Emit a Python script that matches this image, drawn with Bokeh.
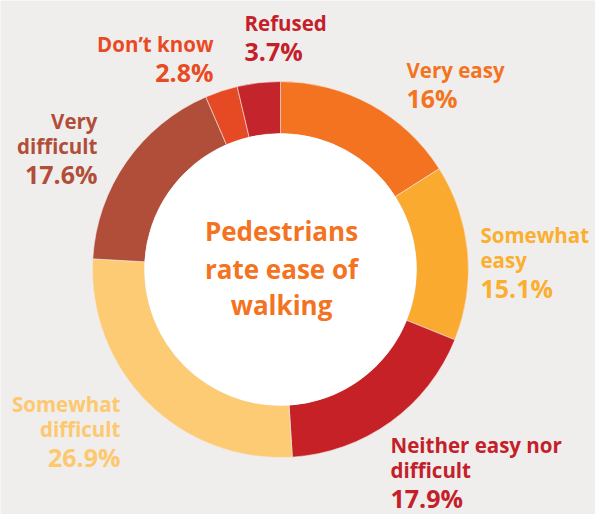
import math
from bokeh.plotting import figure
from bokeh.models import Range1d, ColumnDataSource
from bokeh.core.properties import value
from bokeh.embed import file_html
from bokeh.resources import INLINE

# ---- data ----
categories = ["Very easy", "Somewhat easy", "Neither easy nor difficult",
              "Somewhat difficult", "Very difficult", "Don\u2019t know", "Refused"]
shares = [16.0, 15.1, 17.9, 26.9, 17.6, 2.8, 3.7]
pct_labels = ["16%", "15.1%", "17.9%", "26.9%", "17.6%", "2.8%", "3.7%"]
name_lines = [["Very easy"], ["Somewhat", "easy"], ["Neither easy nor", "difficult"],
              ["Somewhat", "difficult"], ["Very", "difficult"], ["Don\u2019t know"], ["Refused"]]
title_lines = ["Pedestrians", "rate ease of", "walking"]

# ---- styles / layout ----
wedge_colors = ["#F37321", "#FBAA30", "#C62127", "#FDCB74", "#B04E3A", "#E64A24", "#C4242B"]
text_colors = ["#F37321", "#FBAE2F", "#C4202A", "#FDC86F", "#B04E3A", "#E84A24", "#C4202A"]
BG = "#F0EEEC"
W, H = 595, 514
cx, cy = 280, H - 269
r_out, r_in = 188, 136

# label anchor (px from top-left): x, y of first line center, align
label_pos = [(406, 69, "left"), (480, 234, "left"), (390, 444, "left"),
             (120, 403, "right"), (97, 120, "right"), (213, 43, "right"), (244, 22, "left")]
line_gap = 25
pct_gap = 28

p = figure(width=W, height=H, output_backend="svg", toolbar_location=None,
           x_range=Range1d(0, W), y_range=Range1d(0, H), min_border=0)
p.axis.visible = False
p.grid.visible = False
p.outline_line_color = None
p.background_fill_color = BG
p.border_fill_color = BG

total = sum(shares)
starts, ends = [], []
acc = 0.0
for s in shares:
    starts.append(math.pi / 2 - 2 * math.pi * acc / total)
    acc += s
    ends.append(math.pi / 2 - 2 * math.pi * acc / total)

src = ColumnDataSource(dict(start=starts, end=ends, color=wedge_colors, cat=categories))
p.annular_wedge(x=cx, y=cy, inner_radius=r_in, outer_radius=r_out,
                start_angle="start", end_angle="end", direction="clock",
                fill_color="color", line_color="#F3E9E4", line_width=0.6, source=src)
p.circle(x=cx, y=cy, radius=r_in, fill_color="white", line_color=None)

font = value("Open Sans")
for i in range(len(categories)):
    x0, y0, align = label_pos[i]
    lines = name_lines[i]
    ys = [H - (y0 + k * line_gap) for k in range(len(lines))]
    p.text(x=[x0] * len(lines), y=ys, text=lines, text_align=align, text_baseline="middle",
           text_color=text_colors[i], text_font=font, text_font_style="bold",
           text_font_size="20.5px")
    yp = H - (y0 + (len(lines) - 1) * line_gap + pct_gap)
    p.text(x=[x0], y=[yp], text=[pct_labels[i]], text_align=align, text_baseline="middle",
           text_color=text_colors[i], text_font=font, text_font_style="bold",
           text_font_size="25px")

p.text(x=[cx + 1] * 3, y=[H - 230, H - 268, H - 304], text=title_lines,
       text_align="center", text_baseline="middle", text_color="#F37321",
       text_font=font, text_font_style="bold", text_font_size="26px")

open("out.html", "w").write(file_html(p, INLINE))
